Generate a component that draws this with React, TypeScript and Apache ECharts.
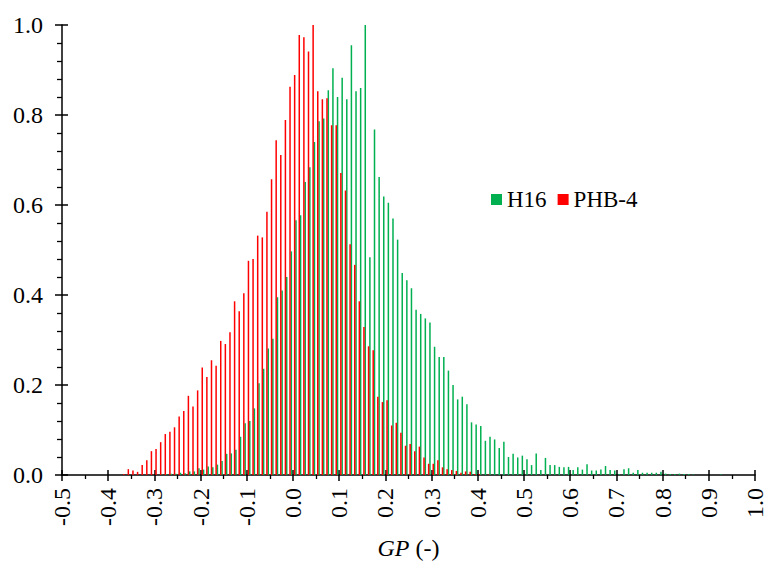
import React, { useEffect, useRef } from "react";
import * as echarts from "echarts";

const BIN_STEP = 0.01;

const H16_START = -0.28;
const H16_VALUES = [
  0.001, 0.002, 0.003, 0.003, 0.005, 0.004, 0.008, 0.008, 0.015, 0.012,
  0.019, 0.017, 0.023, 0.031, 0.047, 0.048, 0.056, 0.085, 0.115, 0.12,
  0.148, 0.204, 0.236, 0.281, 0.303, 0.395, 0.41, 0.44, 0.497, 0.566,
  0.577, 0.651, 0.684, 0.74, 0.786, 0.792, 0.855, 0.904, 0.84, 0.883,
  0.835, 0.955, 0.853, 0.86, 1.0, 0.484, 0.768, 0.662, 0.619, 0.605,
  0.57, 0.523, 0.449, 0.433, 0.415, 0.367, 0.358, 0.348, 0.339, 0.285,
  0.262, 0.262, 0.232, 0.2, 0.168, 0.174, 0.157, 0.117, 0.112, 0.109,
  0.076, 0.085, 0.079, 0.06, 0.074, 0.04, 0.047, 0.039, 0.043, 0.035,
  0.022, 0.048, 0.011, 0.038, 0.022, 0.022, 0.018, 0.017, 0.018, 0.011,
  0.017, 0.012, 0.024, 0.01, 0.01, 0.012, 0.02, 0.011, 0.01, 0.002,
  0.013, 0.015, 0.005, 0.011, 0.005, 0.005, 0.005, 0.005, 0.007, 0.003,
  0.002, 0.002, 0.003, 0.002, 0.002, 0.001, 0, 0, 0, 0,
  0, 0.001,
];

const PHB4_START = -0.37;
const PHB4_VALUES = [
  0.002, 0.013, 0.01, 0.007, 0.022, 0.033, 0.053, 0.058, 0.073, 0.091,
  0.096, 0.106, 0.13, 0.142, 0.176, 0.152, 0.188, 0.239, 0.218, 0.255,
  0.243, 0.298, 0.291, 0.317, 0.386, 0.364, 0.404, 0.476, 0.48, 0.532,
  0.528, 0.585, 0.657, 0.744, 0.711, 0.789, 0.863, 0.889, 0.978, 0.973,
  0.941, 1.0, 0.853, 0.835, 0.837, 0.777, 0.777, 0.671, 0.632, 0.513,
  0.467, 0.386, 0.329, 0.286, 0.277, 0.174, 0.162, 0.166, 0.11, 0.116,
  0.094, 0.065, 0.069, 0.053, 0.063, 0.039, 0.025, 0.025, 0.033, 0.017,
  0.013, 0.011, 0.009, 0.005, 0.008, 0.007, 0.002, 0.002, 0, 0.001,
];

const SERIES_NAMES = ["H16", "PHB-4"];
const SERIES_COLORS = ["#00B050", "#FF0000"];

const X_MIN = -0.5;
const X_MAX = 1.0;
const X_INTERVAL = 0.1;
const Y_MIN = 0;
const Y_MAX = 1.0;
const Y_INTERVAL = 0.2;

const FONT = "Liberation Serif";
const FS = 24;
const LEGEND_FS = 23;

function toPairs(start: number, values: number[]) {
  return values.map((v, i) => [Number((start + i * BIN_STEP).toFixed(2)), v]);
}

const fmt = (v: number) => (Math.abs(v) < 1e-9 ? "0.0" : v.toFixed(1));

export default function App() {
  const ref = useRef<HTMLDivElement>(null);
  useEffect(() => {
    if (!ref.current) return;
    const chart = echarts.init(ref.current, undefined, { renderer: "svg" });
    const black = "#000";
    const gridBox = { left: 62, right: 13, top: 25, bottom: 88, containLabel: false, outerBoundsMode: "none" };
    chart.setOption({
      animation: false,
      backgroundColor: "#fff",
      textStyle: { fontFamily: FONT },
      grid: [{ ...gridBox }, { ...gridBox }],
      legend: {
        data: SERIES_NAMES,
        left: 486,
        top: 183,
        icon: "rect",
        itemWidth: 11,
        itemHeight: 11,
        itemGap: 11,
        textStyle: { fontFamily: FONT, fontSize: LEGEND_FS, color: black },
      },
      xAxis: [
        {
          type: "value",
          gridIndex: 0,
          min: X_MIN,
          max: X_MAX,
          interval: X_INTERVAL,
          position: "bottom",
          axisLine: { show: true, onZero: false, lineStyle: { color: black, width: 1.5 } },
          axisTick: { show: true, length: 6, lineStyle: { color: black, width: 1.5 } },
          minorTick: { show: true, splitNumber: 2, length: 4, lineStyle: { color: black, width: 1.3 } },
          splitLine: { show: false },
          axisLabel: {
            rotate: 90,
            margin: 13,
            formatter: fmt,
            fontFamily: FONT,
            fontSize: FS,
            color: black,
          },
          name: "{i|GP} (-)",
          nameLocation: "middle",
          nameGap: 61,
          nameTextStyle: {
            fontFamily: FONT,
            fontSize: FS,
            color: black,
            rich: {
              i: { fontStyle: "italic", fontFamily: FONT, fontSize: FS, color: black },
            },
          },
        },
        {
          type: "value",
          gridIndex: 1,
          min: X_MIN,
          max: X_MAX,
          interval: X_INTERVAL,
          position: "bottom",
          axisLine: { show: false, onZero: false },
          axisTick: { show: true, inside: true, length: 5, lineStyle: { color: black, width: 1.5 } },
          axisLabel: { show: false },
          splitLine: { show: false },
        },
      ],
      yAxis: [
        {
          type: "value",
          gridIndex: 0,
          min: Y_MIN,
          max: Y_MAX,
          interval: Y_INTERVAL,
          position: "left",
          axisLine: { show: true, onZero: false, lineStyle: { color: black, width: 1.5 } },
          axisTick: { show: true, length: 7, lineStyle: { color: black, width: 1.5 } },
          minorTick: { show: true, splitNumber: 5, length: 5, lineStyle: { color: black, width: 1.3 } },
          splitLine: { show: false },
          axisLabel: { margin: 19, formatter: fmt, fontFamily: FONT, fontSize: FS, color: black },
        },
        {
          type: "value",
          gridIndex: 1,
          min: Y_MIN,
          max: Y_MAX,
          interval: Y_INTERVAL,
          position: "left",
          axisLine: { show: false, onZero: false },
          axisTick: { show: true, inside: true, length: 6, lineStyle: { color: black, width: 1.5 } },
          axisLabel: { show: false },
          splitLine: { show: false },
        },
      ],
      series: [
        {
          name: SERIES_NAMES[0],
          type: "bar",
          xAxisIndex: 0,
          yAxisIndex: 0,
          data: toPairs(H16_START, H16_VALUES),
          barWidth: 1.5,
          barGap: "120%",
          itemStyle: { color: SERIES_COLORS[0] },
        },
        {
          name: SERIES_NAMES[1],
          type: "bar",
          xAxisIndex: 0,
          yAxisIndex: 0,
          data: toPairs(PHB4_START, PHB4_VALUES),
          barWidth: 1.5,
          barGap: "120%",
          itemStyle: { color: SERIES_COLORS[1] },
        },
      ],
    });
    return () => chart.dispose();
  }, []);
  return (
    <div
      ref={ref}
      style={{ position: "fixed", left: 0, top: 0, width: 768, height: 563, background: "#fff" }}
    />
  );
}
